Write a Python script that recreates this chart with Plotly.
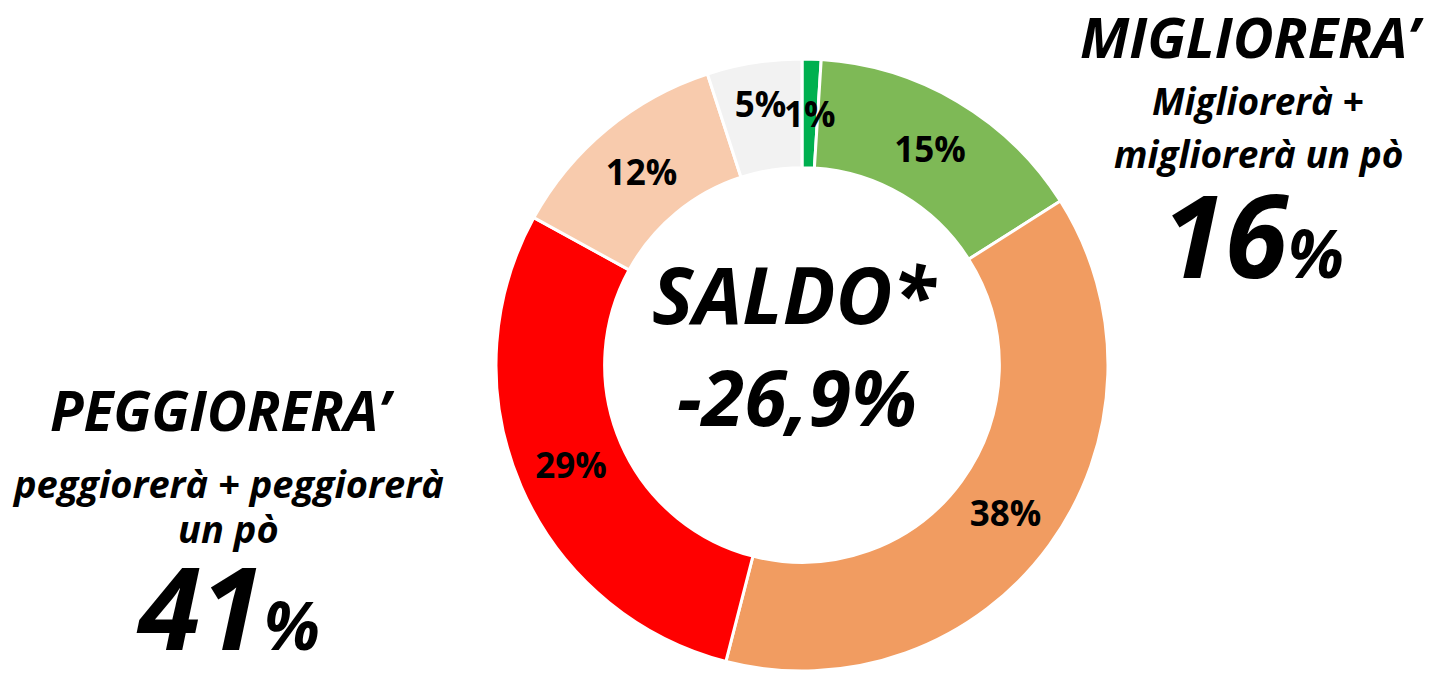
import math
import plotly.graph_objects as go

# Data
categories = ["Migliorerà", "Migliorerà un pò", "Peggiorerà un pò", "Peggiorerà", "Non sa", "Resterà uguale"]
values = [1, 15, 38, 29, 12, 5]
colors = ["#00B050", "#7EB956", "#F19C61", "#FF0000", "#F8CBAD", "#F2F2F2"]

saldo_title = "SALDO*"
saldo_value = "-26,9%"
pos_title = "MIGLIORERA’"
pos_sub = ["Migliorerà +", "migliorerà un pò"]
pos_total = "16"
neg_title = "PEGGIORERA’"
neg_sub = ["peggiorerà + peggiorerà", "un pò"]
neg_total = "41"

FONT = "Open Sans"
W, H = 1440, 673
cx, cy, r = 794, 357, 306
HOLE = 0.645
LABEL_SIZE = 35

# slices too thin for inside text get their label as an annotation at the ring middle
thin = [v < 3 for v in values]

fig = go.Figure(go.Pie(
    labels=categories,
    values=values,
    text=[f"<b>{v}%</b>" for v in values],
    texttemplate="%{text}",
    textinfo="text",
    textposition=["none" if t else "inside" for t in thin],
    insidetextorientation="horizontal",
    textfont=dict(family=FONT, size=LABEL_SIZE, color="black"),
    marker=dict(colors=colors, line=dict(color="white", width=3)),
    hole=HOLE,
    sort=False,
    direction="clockwise",
    rotation=0,
    showlegend=False,
    domain=dict(x=[(cx - r) / W, (cx + r) / W], y=[(H - cy - r) / H, (H - cy + r) / H]),
))

total = sum(values)
cum = 0
for v, t in zip(values, thin):
    if t:
        ang = 2 * math.pi * (cum + v / 2) / total
        rl = r * (1 + HOLE) / 2
        fig.add_annotation(x=(cx + rl * math.sin(ang)) / W, y=1 - (cy - rl * math.cos(ang)) / H,
                           xref="paper", yref="paper", text=f"<b>{v}%</b>", showarrow=False,
                           xanchor="center", yanchor="middle",
                           font=dict(family=FONT, size=LABEL_SIZE, color="black"))
    cum += v

def ann(x, y, text, size, **kw):
    fig.add_annotation(x=x / W, y=1 - y / H, xref="paper", yref="paper", text=f"<b><i>{text}</i></b>",
                       showarrow=False, xanchor="center", yanchor="middle",
                       font=dict(family=FONT, size=size, color="black"), **kw)

ann(787, 286, saldo_title, 78)
ann(789, 389, saldo_value, 77)

ann(1244, 28, pos_title, 56)
ann(1250, 93, pos_sub[0], 37)
ann(1250, 145, pos_sub[1], 37)
ann(1245, 226, f"{pos_total}<span style='font-size:66px'>%</span>", 114)

ann(214, 401, neg_title, 55)
ann(220, 475, neg_sub[0], 38)
ann(220, 520, neg_sub[1], 38)
ann(220, 597, f"{neg_total}<span style='font-size:66px'>%</span>", 114)

fig.update_layout(
    width=W, height=H,
    margin=dict(l=0, r=0, t=0, b=0),
    paper_bgcolor="white", plot_bgcolor="white",
    uniformtext=dict(minsize=LABEL_SIZE, mode="show"),
)

fig.write_html("out.html")
